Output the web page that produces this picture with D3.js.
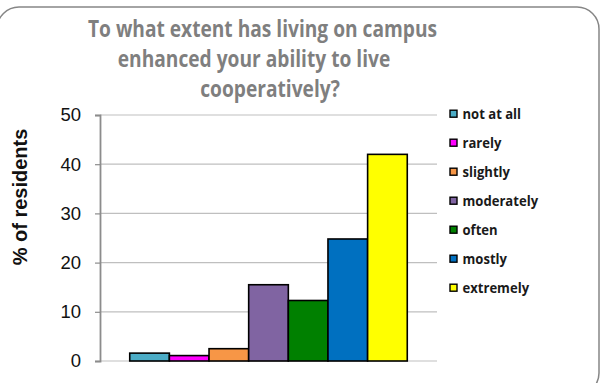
<!DOCTYPE html>
<html>
<head>
<meta charset="utf-8">
<script src="https://cdn.jsdelivr.net/npm/d3@7"></script>
<style>
  html, body { margin: 0; padding: 0; background: #fff; }
  svg { display: block; }
</style>
</head>
<body>
<svg id="chart" width="601" height="383"></svg>
<script>
// Survey responses: share of residents per answer
const categories = ["not at all", "rarely", "slightly", "moderately", "often", "mostly", "extremely"];
const values = [1.6, 1.1, 2.5, 15.5, 12.3, 24.8, 42.0];
const colors = ["#4bacc6", "#ff00ff", "#f79646", "#8064a2", "#008000", "#0070c0", "#ffff00"];
const yTicks = [0, 10, 20, 30, 40, 50];
const titleLines = ["To what extent has living on campus", "enhanced your ability to live", "cooperatively?"];
const yLabel = "% of residents";

const svg = d3.select("#chart");
const sansFont = "'Open Sans', Lato, sans-serif";

// Rounded chart frame
svg.append("rect")
  .attr("x", -3).attr("y", 7)
  .attr("width", 602).attr("height", 388)
  .attr("rx", 22).attr("ry", 22)
  .attr("fill", "#fff")
  .attr("stroke", "#868686")
  .attr("stroke-width", 1.5);

const plot = { left: 100, right: 437, top: 115, bottom: 361 };

const x = d3.scaleBand()
  .domain(categories)
  .range([plot.left, plot.right])
  .paddingInner(0)
  .paddingOuter(0.75);

const y = d3.scaleLinear()
  .domain([0, 50])
  .range([plot.bottom, plot.top]);

// Horizontal gridlines
svg.append("g")
  .selectAll("line")
  .data(yTicks.filter(d => d > 0))
  .join("line")
  .attr("x1", plot.left).attr("x2", plot.right)
  .attr("y1", d => y(d)).attr("y2", d => y(d))
  .attr("stroke", "#bfbfbf")
  .attr("stroke-width", 1.2);

// Baseline
svg.append("line")
  .attr("x1", plot.left).attr("x2", plot.right)
  .attr("y1", y(0)).attr("y2", y(0))
  .attr("stroke", "#bfbfbf")
  .attr("stroke-width", 1.2);

// Y axis
const yAxis = d3.axisLeft(y)
  .tickValues(yTicks)
  .tickSize(5)
  .tickPadding(14)
  .tickFormat(d3.format("d"));

const gy = svg.append("g")
  .attr("transform", `translate(${plot.left},0)`)
  .call(yAxis);
gy.select(".domain").attr("stroke", "#8c8c8c").attr("stroke-width", 1.8);
gy.selectAll(".tick line").attr("stroke", "#8c8c8c").attr("stroke-width", 1.2);
gy.selectAll(".tick text")
  .attr("fill", "#111")
  .style("font-family", "'Liberation Sans', Arial, sans-serif")
  .style("font-size", "18.5px");

// Bars
svg.append("g")
  .selectAll("rect")
  .data(categories)
  .join("rect")
  .attr("x", d => x(d))
  .attr("width", x.bandwidth())
  .attr("y", (d, i) => y(values[i]))
  .attr("height", (d, i) => y(0) - y(values[i]))
  .attr("fill", (d, i) => colors[i])
  .attr("stroke", "#000")
  .attr("stroke-width", 1.6);

// Y axis title
svg.append("text")
  .attr("transform", "translate(27,197) rotate(-90)")
  .attr("text-anchor", "middle")
  .style("font-family", "'Liberation Sans', Arial, sans-serif")
  .style("font-weight", "bold")
  .style("font-size", "20px")
  .attr("fill", "#111")
  .text(yLabel);

// Chart title; font size chosen so the first line spans about 349px,
// glyphs stretched a little vertically for a taller, narrower face
const titleX = [262.5, 254, 270];
const titleY = [36.5, 66.5, 96.5];
const titleStretch = 1.2;
const title = svg.append("g")
  .style("font-family", sansFont)
  .style("font-weight", "bold")
  .style("font-size", "19px");
const titleText = title.selectAll("text")
  .data(titleLines)
  .join("text")
  .attr("transform", (d, i) => `translate(${titleX[i]},${titleY[i]}) scale(1,${titleStretch})`)
  .attr("text-anchor", "middle")
  .attr("fill", "#7f7f7f")
  .text(d => d);
const w0 = titleText.node().getComputedTextLength();
title.style("font-size", (19 * 349 / w0).toFixed(2) + "px");

// Legend
const legendStretch = 1.12;
const legend = svg.append("g")
  .style("font-family", sansFont)
  .style("font-weight", "bold")
  .style("font-size", "12px");
const items = legend.selectAll("g")
  .data(categories)
  .join("g")
  .attr("transform", (d, i) => `translate(450,${113.7 + i * 29})`);
items.append("rect")
  .attr("x", 0).attr("y", -3.5)
  .attr("width", 7).attr("height", 7)
  .attr("fill", (d, i) => colors[i])
  .attr("stroke", "#000")
  .attr("stroke-width", 1.4);
const legendText = items.append("text")
  .attr("transform", `translate(12.5,0) scale(1,${legendStretch})`)
  .attr("dy", "0.36em")
  .attr("fill", "#1a1a1a")
  .text(d => d);
const lw = legendText.nodes()[3].getComputedTextLength();
legend.style("font-size", (12 * 75.6 / lw).toFixed(2) + "px");
</script>
</body>
</html>
